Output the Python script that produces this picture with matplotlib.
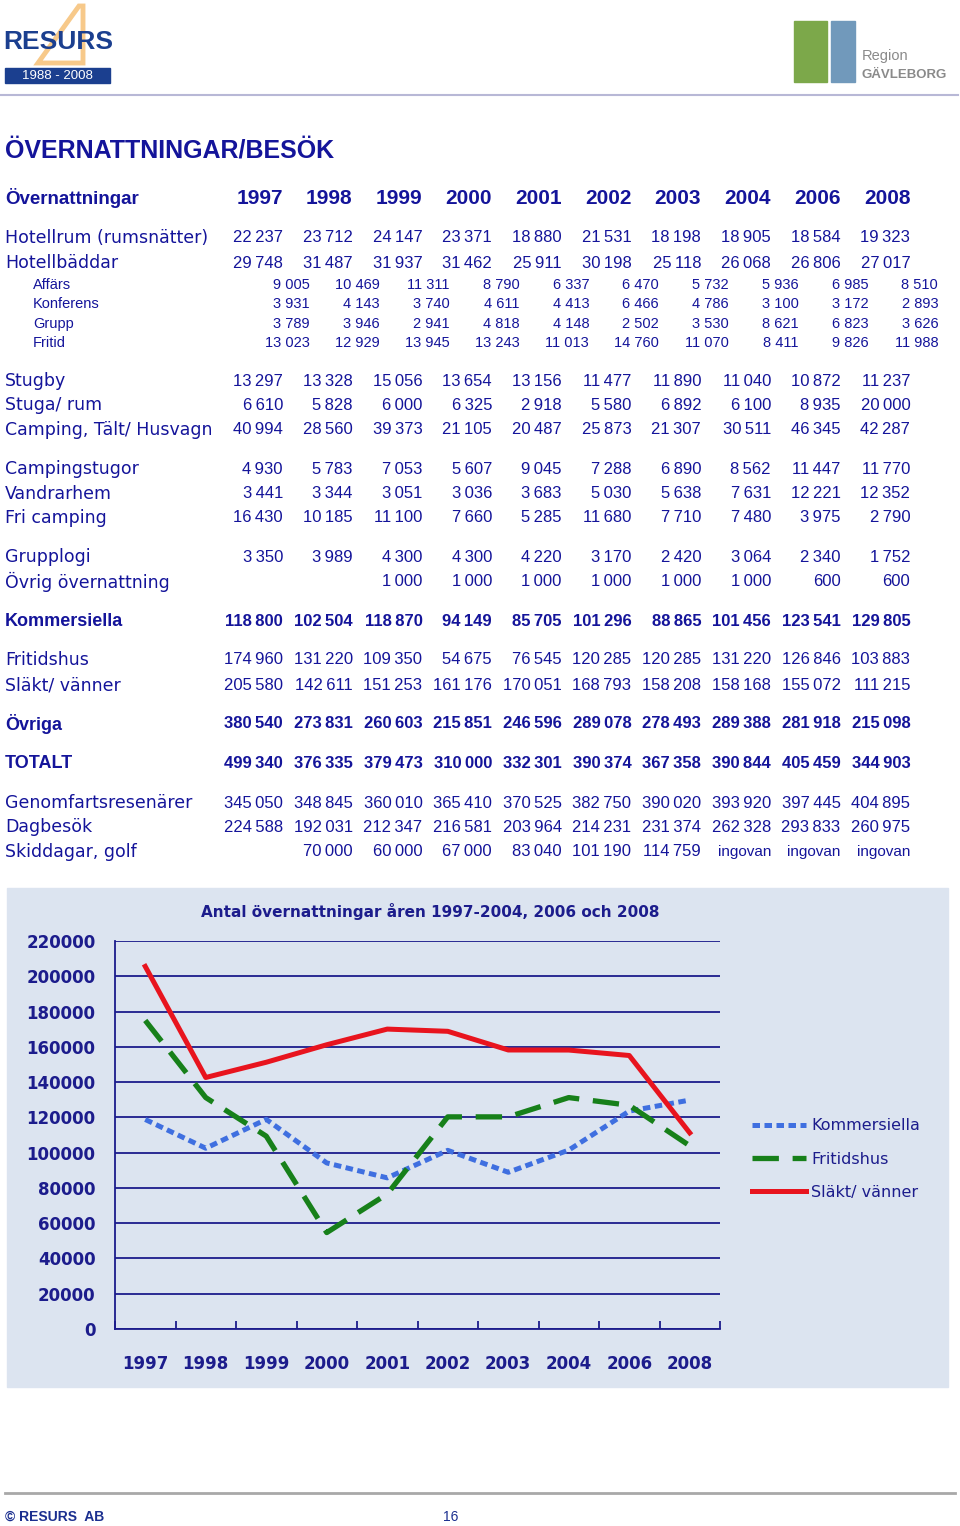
import matplotlib
matplotlib.use("Agg")
import matplotlib.pyplot as plt
from matplotlib.patches import Rectangle, Polygon
from matplotlib import font_manager
import numpy as np

######################################################################

years = ["1997", "1998", "1999", "2000", "2001", "2002", "2003", "2004", "2006", "2008"]

hotellrum = [22237, 23712, 24147, 23371, 18880, 21531, 18198, 18905, 18584, 19323]
hotellbaddar = [29748, 31487, 31937, 31462, 25911, 30198, 25118, 26068, 26806, 27017]
affars = [9005, 10469, 11311, 8790, 6337, 6470, 5732, 5936, 6985, 8510]
konferens = [3931, 4143, 3740, 4611, 4413, 6466, 4786, 3100, 3172, 2893]
grupp = [3789, 3946, 2941, 4818, 4148, 2502, 3530, 8621, 6823, 3626]
fritid = [13023, 12929, 13945, 13243, 11013, 14760, 11070, 8411, 9826, 11988]
stugby = [13297, 13328, 15056, 13654, 13156, 11477, 11890, 11040, 10872, 11237]
stuga_rum = [6610, 5828, 6000, 6325, 2918, 5580, 6892, 6100, 8935, 20000]
camping = [40994, 28560, 39373, 21105, 20487, 25873, 21307, 30511, 46345, 42287]
campingstugor = [4930, 5783, 7053, 5607, 9045, 7288, 6890, 8562, 11447, 11770]
vandrarhem = [3441, 3344, 3051, 3036, 3683, 5030, 5638, 7631, 12221, 12352]
fri_camping = [16430, 10185, 11100, 7660, 5285, 11680, 7710, 7480, 3975, 2790]
grupplogi = [3350, 3989, 4300, 4300, 4220, 3170, 2420, 3064, 2340, 1752]
ovrig = [None, None, 1000, 1000, 1000, 1000, 1000, 1000, 600, 600]
kommersiella = [118800, 102504, 118870, 94149, 85705, 101296, 88865, 101456, 123541, 129805]
fritidshus = [174960, 131220, 109350, 54675, 76545, 120285, 120285, 131220, 126846, 103883]
slakt = [205580, 142611, 151253, 161176, 170051, 168793, 158208, 158168, 155072, 111215]
ovriga = [380540, 273831, 260603, 215851, 246596, 289078, 278493, 289388, 281918, 215098]
totalt = [499340, 376335, 379473, 310000, 332301, 390374, 367358, 390844, 405459, 344903]
genomfart = [345050, 348845, 360010, 365410, 370525, 382750, 390020, 393920, 397445, 404895]
dagbesok = [224588, 192031, 212347, 216581, 203964, 214231, 231374, 262328, 293833, 260975]
skiddagar = [None, 70000, 60000, 67000, 83040, 101190, 114759, "ingovan", "ingovan", "ingovan"]

# (label, values, style, y-pixel) ; style: main / sub / bold
rows = [
    ("Hotellrum (rumsnätter)", hotellrum, "main", 238),
    ("Hotellbäddar", hotellbaddar, "main", 263),
    ("Affärs", affars, "sub", 285),
    ("Konferens", konferens, "sub", 304),
    ("Grupp", grupp, "sub", 324),
    ("Fritid", fritid, "sub", 343),
    ("Stugby", stugby, "main", 381),
    ("Stuga/ rum", stuga_rum, "main", 405),
    ("Camping, Tält/ Husvagn", camping, "main", 430),
    ("Campingstugor", campingstugor, "main", 469),
    ("Vandrarhem", vandrarhem, "main", 494),
    ("Fri camping", fri_camping, "main", 518),
    ("Grupplogi", grupplogi, "main", 557),
    ("Övrig övernattning", ovrig, "main", 582),
    ("Kommersiella", kommersiella, "bold", 621),
    ("Fritidshus", fritidshus, "main", 660),
    ("Släkt/ vänner", slakt, "main", 685),
    ("Övriga", ovriga, "bold", 724),
    ("TOTALT", totalt, "bold", 763),
    ("Genomfartsresenärer", genomfart, "main", 803),
    ("Dagbesök", dagbesok, "main", 827),
    ("Skiddagar, golf", skiddagar, "main", 852),
]

yticks = list(range(0, 220001, 20000))

######################################################################

W, H = 960, 1526
NAVY = "#14149a"
TXT = "Liberation Sans"
installed = {f.name for f in font_manager.fontManager.ttflist}
NARROW = "Liberation Sans Narrow" if "Liberation Sans Narrow" in installed else None

fig = plt.figure(figsize=(W / 100, H / 100), dpi=100)
fig.patch.set_facecolor("white")

# Overlay axes in pixel coordinates for the page furniture and table
page = fig.add_axes([0, 0, 1, 1])
page.set_xlim(0, W)
page.set_ylim(H, 0)
page.axis("off")

# RESURS logo
page.add_patch(Polygon([[79, 6], [83, 6], [83, 63], [38, 63]], closed=True,
                       fill=False, edgecolor="#f7c98a", linewidth=3.5))
if NARROW:
    page.text(3, 42, "RESURS", fontsize=23, fontweight="bold", color="#1b3f8f",
              family=NARROW, va="center", ha="left")
else:
    page.text(3, 42, "RESURS", fontsize=19, fontweight="bold", color="#1b3f8f",
              family=TXT, va="center", ha="left")
page.add_patch(Rectangle((5, 68), 105, 15, color="#1b3f8f"))
page.text(57, 76, "1988 - 2008", fontsize=9.5, color="white",
          family=NARROW or TXT, va="center", ha="center")

# Region Gävleborg logo
page.add_patch(Rectangle((794, 21), 33, 61, color="#7ca84a"))
page.add_patch(Rectangle((831, 21), 24, 61, color="#7199bb"))
page.text(862, 56, "Region", fontsize=12 if NARROW else 10.5, color="#8a8a8a",
          family=NARROW or TXT, va="center", ha="left")
page.text(862, 75, "GÄVLEBORG", fontsize=12 if NARROW else 9.5,
          fontweight="bold", color="#8a8a8a",
          family=NARROW or TXT, va="center", ha="left")
page.plot([0, 958], [95, 95], color="#b8b8d6", linewidth=1.5)

# Title and header
page.text(5, 150, "ÖVERNATTNINGAR/BESÖK", fontsize=18, fontweight="bold",
          color=NAVY, family=TXT, va="center", ha="left")
page.text(5, 198, "Övernattningar", fontsize=13.5, fontweight="bold",
          color=NAVY, family=TXT, va="center", ha="left")
col_right = [283 + 69.7 * i for i in range(10)]
for x, yr in zip(col_right, years):
    page.text(x, 198, yr, fontsize=15, fontweight="bold", color=NAVY,
              family=TXT, va="center", ha="right")


def fmt(v):
    if v is None:
        return ""
    if isinstance(v, str):
        return v
    return "{:,}".format(v).replace(",", "\u2009")


for label, vals, style, y in rows:
    if style == "sub":
        page.text(33, y, label, fontsize=10.5, color=NAVY, family=TXT,
                  va="center", ha="left")
        for i, v in enumerate(vals):
            page.text(310 + 69.8 * i, y, fmt(v).replace("\u2009", " "),
                      fontsize=10.5, color=NAVY, family=TXT,
                      va="center", ha="right")
    else:
        weight = "bold" if style == "bold" else "normal"
        page.text(5, y, label, fontweight=weight, color=NAVY,
                  family="DejaVu Sans" if style == "main" else TXT,
                  va="center", ha="left",
                  fontsize=12.5 if style == "main" else 13)
        for i, v in enumerate(vals):
            s = fmt(v)
            fs = 11 if isinstance(v, str) else 12
            page.text(col_right[i], y, s, fontsize=fs, fontweight=weight,
                      color=NAVY, family=TXT, va="center", ha="right")

# Chart panel background
page.add_patch(Rectangle((7, 888), 941, 499, color="#dce4f0"))

# Footer
page.plot([5, 955], [1493, 1493], color="#a8a8a8", linewidth=2)
page.text(5, 1517, "\u00a9 RESURS  AB", fontsize=10, fontweight="bold",
          color="#1b2f8f", family=TXT, va="center", ha="left")
page.text(443, 1517, "16", fontsize=10, color="#1b2f8f", family=TXT,
          va="center", ha="left")

######################################################################

CN = "#1c1c8c"
ax = fig.add_axes([115 / W, 197 / H, 605 / W, 388 / H])
ax.set_facecolor("none")
x = np.arange(len(years))

ax.plot(x, kommersiella, color="#3f6fe0", linewidth=3.6,
        linestyle=(0, (1.5, 0.9)), label="Kommersiella")
ax.plot(x, fritidshus, color="#17801a", linewidth=3.8,
        linestyle=(0, (5, 2.6)), label="Fritidshus")
ax.plot(x, slakt, color="#e8141e", linewidth=3.6, label="Släkt/ vänner")

ax.set_xlim(-0.5, len(years) - 0.5)
ax.set_ylim(0, 220000)
ax.set_yticks(yticks)
ax.set_yticklabels([str(t) for t in yticks])
ax.set_xticks(x)
ax.set_xticklabels(years)
ax.set_xticks(np.arange(-0.5, len(years)), minor=True)
ax.grid(axis="y", color=CN, linewidth=1.3)
ax.set_axisbelow(True)
for side in ("top", "right"):
    ax.spines[side].set_visible(False)
for side in ("left", "bottom"):
    ax.spines[side].set_color(CN)
    ax.spines[side].set_linewidth(1.3)
ax.tick_params(axis="y", length=0, pad=14, labelcolor=CN, labelsize=12)
ax.tick_params(axis="x", which="major", length=0, pad=19, labelcolor=CN,
               labelsize=12)
ax.tick_params(axis="x", which="minor", direction="in", length=6,
               width=1.3, color=CN)
for lab in ax.get_xticklabels() + ax.get_yticklabels():
    lab.set_fontweight("bold")
    lab.set_family("DejaVu Sans")

page.text(430, 912, "Antal övernattningar åren 1997-2004, 2006 och 2008",
          fontsize=11, fontweight="bold", color=CN, family="DejaVu Sans",
          va="center", ha="center")

fig.legend(loc="center left", bbox_to_anchor=(752 / W, 1 - 1159 / H),
           frameon=False, fontsize=11.5, handlelength=3.4, handletextpad=0.3,
           labelspacing=1.15, borderpad=0, borderaxespad=0, labelcolor=CN)

fig.savefig("out.png", dpi=100)
